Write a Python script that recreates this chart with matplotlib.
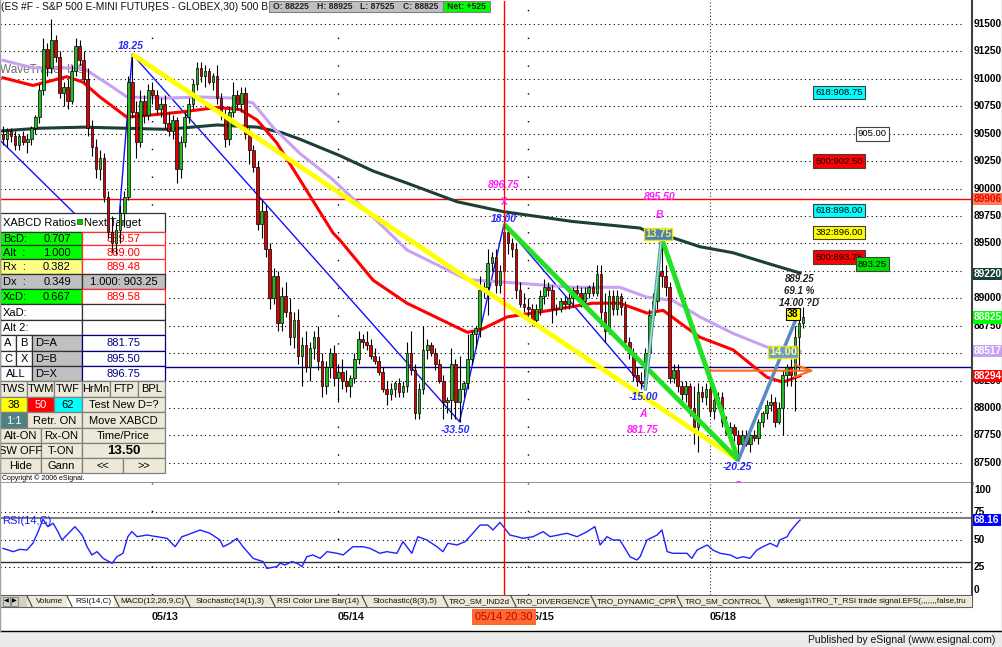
#!/usr/bin/env python
"""
30 minute ES chart with XABCD pattern, moving averages and RSI pane
"""

import numpy as np
import matplotlib
matplotlib.use("Agg")
import matplotlib.pyplot as plt
from matplotlib.patches import Rectangle
from matplotlib.transforms import Affine2D, blended_transform_factory

# ---------------- data ----------------
bar_open = [
    905.0, 904.5, 905.25, 904.75, 904.0, 904.75, 904.25, 904.5, 905.5, 906.5,
    909.0, 912.75, 911.0, 913.5, 912.0, 908.75, 909.25, 908.0, 910.75, 913.0,
    911.75, 910.0, 905.5, 903.75, 901.75, 902.75, 899.25, 896.0, 895.0, 896.25,
    897.75, 899.25, 909.75, 907.0, 904.25, 908.0, 906.75, 909.0, 908.5, 907.25,
    907.75, 906.0, 905.25, 906.25, 901.75, 904.25, 906.5, 907.75, 909.5, 911.0,
    910.25, 910.75, 909.75, 910.25, 908.25, 906.75, 904.5, 907.0, 908.5, 907.75,
    908.75, 905.0, 903.5, 902.0, 896.75, 898.0, 894.5, 890.0, 892.0, 887.75,
    890.25, 888.75, 886.5, 888.0, 884.75, 885.75, 883.75, 885.5, 886.5, 884.25,
    882.0, 883.75, 885.0, 882.75, 883.25, 882.5, 882.0, 882.75, 884.5, 886.25,
    886.0, 885.75, 884.75, 884.25, 883.25, 881.75, 881.25, 881.75, 882.25, 881.5,
    882.0, 885.0, 883.5, 879.5, 881.75, 885.25, 885.75, 885.0, 884.0, 882.5,
    880.5, 880.75, 884.0, 880.5, 881.75, 882.25, 884.5, 886.75, 887.25, 890.75,
    891.0, 893.25, 893.75, 891.25, 892.5, 896.0, 895.0, 894.5, 890.75, 889.5,
    889.25, 889.0, 888.0, 889.0, 890.25, 891.0, 890.75, 889.0, 889.0, 889.75,
    889.5, 890.0, 890.75, 890.5, 889.75, 890.5, 891.0, 890.5, 892.25, 888.75,
    887.0, 890.25, 889.0, 890.25, 889.25, 886.0, 885.0, 883.0, 882.5, 882.25,
    885.0, 888.5, 889.75, 892.5, 892.0, 891.0, 882.75, 883.5, 882.0, 881.25,
    882.0, 880.0, 878.25, 881.5, 881.0, 881.75, 879.75, 880.75, 881.0, 878.75,
    877.75, 878.25, 877.5, 876.75, 877.5, 876.75, 877.5, 877.25, 878.75, 879.5,
    880.25, 880.5, 878.75, 880.0, 883.0, 883.75, 883.0, 886.5, 887.75]
bar_high = [
    905.75, 905.5, 905.5, 905.25, 905.0, 905.25, 905.0, 905.75, 906.75, 909.5,
    913.75, 913.25, 915.5, 914.0, 912.5, 909.75, 910.0, 911.25, 913.75, 913.5,
    912.5, 911.0, 906.25, 904.5, 903.5, 903.25, 899.75, 897.5, 896.75, 898.5,
    899.75, 910.25, 912.25, 908.0, 909.0, 908.5, 909.5, 909.75, 909.0, 908.25,
    908.5, 907.0, 906.75, 906.5, 904.75, 907.0, 908.25, 910.0, 911.5, 911.5,
    911.25, 911.0, 910.5, 911.25, 908.75, 907.25, 907.5, 909.75, 909.0, 909.25,
    909.25, 905.5, 904.0, 902.5, 899.0, 898.5, 895.0, 892.75, 892.5, 891.0,
    891.5, 890.0, 888.75, 889.0, 886.5, 887.0, 886.0, 887.0, 887.5, 885.0,
    884.25, 885.5, 885.75, 884.0, 884.5, 883.5, 883.0, 885.0, 887.0, 886.75,
    887.0, 886.25, 885.5, 884.75, 883.75, 882.5, 882.25, 882.5, 882.75, 882.5,
    886.0, 887.0, 884.0, 882.25, 887.5, 886.25, 886.0, 885.5, 884.5, 883.0,
    881.0, 885.5, 884.5, 884.75, 882.5, 886.75, 887.0, 887.5, 892.0, 891.5,
    894.5, 894.25, 894.5, 893.0, 896.75, 896.5, 895.5, 895.0, 891.5, 890.5,
    890.0, 889.5, 889.5, 890.75, 891.75, 891.5, 891.25, 889.5, 890.0, 890.25,
    890.5, 891.0, 891.25, 891.0, 891.0, 891.25, 891.5, 893.0, 893.0, 890.5,
    890.75, 890.75, 890.75, 890.5, 889.75, 886.5, 885.5, 883.75, 883.25, 885.5,
    889.0, 890.5, 893.0, 895.5, 893.0, 891.5, 884.0, 884.0, 882.5, 882.5,
    882.25, 882.0, 882.25, 882.0, 882.25, 882.0, 881.5, 881.5, 881.5, 879.25,
    878.75, 878.5, 878.0, 878.0, 878.0, 877.75, 878.0, 879.0, 879.75, 880.75,
    881.25, 881.0, 880.5, 883.5, 884.0, 884.5, 887.5, 888.0, 889.25]
bar_low = [
    904.0, 903.75, 904.25, 903.5, 903.5, 904.0, 903.25, 904.0, 905.0, 906.0,
    908.5, 910.25, 910.5, 911.5, 908.25, 907.5, 907.25, 907.75, 910.25, 911.25,
    909.75, 904.75, 903.0, 901.0, 900.75, 898.75, 895.5, 894.25, 894.0, 895.0,
    896.5, 899.0, 906.5, 902.75, 903.75, 906.0, 906.25, 907.75, 906.75, 906.5,
    905.5, 904.75, 904.5, 900.5, 901.0, 903.75, 906.0, 907.25, 909.0, 909.75,
    909.25, 909.5, 909.0, 907.75, 906.25, 903.75, 904.0, 906.5, 907.25, 907.0,
    904.5, 902.25, 901.5, 896.25, 895.5, 893.75, 889.0, 889.5, 887.0, 887.0,
    888.25, 885.75, 885.5, 884.0, 882.0, 883.25, 882.5, 884.5, 883.5, 881.0,
    881.25, 882.75, 882.0, 880.5, 881.75, 881.5, 881.0, 882.25, 884.0, 885.5,
    885.25, 884.5, 884.0, 883.0, 881.5, 880.25, 880.75, 881.0, 881.0, 881.0,
    881.5, 883.0, 879.0, 879.0, 881.25, 884.5, 884.75, 883.5, 882.25, 879.0,
    879.5, 879.0, 879.0, 878.75, 881.0, 881.75, 884.0, 885.5, 886.5, 890.0,
    888.5, 892.5, 890.5, 890.5, 892.0, 894.0, 893.75, 890.0, 889.25, 888.75,
    888.5, 887.5, 887.75, 888.5, 889.5, 890.25, 887.75, 888.5, 888.75, 889.0,
    889.0, 889.25, 890.25, 889.25, 889.5, 890.0, 890.25, 890.25, 887.5, 886.0,
    886.75, 888.5, 888.5, 888.5, 885.25, 884.5, 882.5, 882.0, 881.75, 881.75,
    884.5, 888.0, 889.0, 891.0, 890.25, 882.25, 882.25, 881.5, 880.75, 880.5,
    879.25, 876.75, 876.0, 880.5, 880.25, 879.25, 879.0, 880.0, 878.25, 877.5,
    877.0, 877.0, 875.25, 876.0, 876.5, 876.0, 877.0, 876.75, 878.25, 879.0,
    879.75, 878.25, 878.5, 877.5, 882.0, 882.0, 879.75, 883.5, 887.25]
bar_close = [
    904.5, 905.25, 904.75, 904.0, 904.75, 904.25, 904.5, 905.5, 906.5, 909.0,
    912.75, 911.0, 913.5, 912.0, 908.75, 909.25, 908.0, 910.75, 913.0, 911.75,
    910.0, 905.5, 903.75, 901.75, 902.75, 899.25, 896.0, 895.0, 896.25, 897.75,
    899.25, 909.75, 907.0, 904.25, 908.0, 906.75, 909.0, 908.5, 907.25, 907.75,
    906.0, 905.25, 906.25, 901.75, 904.25, 906.5, 907.75, 909.5, 911.0, 910.25,
    910.75, 909.75, 910.25, 908.25, 906.75, 904.5, 907.0, 908.5, 907.75, 908.75,
    905.0, 903.5, 902.0, 896.75, 898.0, 894.5, 890.0, 892.0, 887.75, 890.25,
    888.75, 886.5, 888.0, 884.75, 885.75, 883.75, 885.5, 886.5, 884.25, 882.0,
    883.75, 885.0, 882.75, 883.25, 882.5, 882.0, 882.75, 884.5, 886.25, 886.0,
    885.75, 884.75, 884.25, 883.25, 881.75, 881.25, 881.75, 882.25, 881.5, 882.0,
    885.0, 883.5, 879.5, 881.75, 885.25, 885.75, 885.0, 884.0, 882.5, 880.5,
    880.75, 884.0, 880.5, 881.75, 882.25, 884.5, 886.75, 887.25, 890.75, 891.0,
    893.25, 893.75, 891.25, 892.5, 896.0, 895.0, 894.5, 890.75, 889.5, 889.25,
    889.0, 888.0, 889.0, 890.25, 891.0, 890.75, 889.0, 889.0, 889.75, 889.5,
    890.0, 890.75, 890.5, 889.75, 890.5, 891.0, 890.5, 892.25, 888.75, 887.0,
    890.25, 889.0, 890.25, 889.25, 886.0, 885.0, 883.0, 882.5, 882.25, 885.0,
    888.5, 889.75, 892.5, 892.0, 891.0, 882.75, 883.5, 882.0, 881.25, 882.0,
    880.0, 878.25, 881.5, 881.0, 881.75, 879.75, 880.75, 881.0, 878.75, 877.75,
    878.25, 877.5, 876.75, 877.5, 876.75, 877.5, 877.25, 878.75, 879.5, 880.25,
    880.5, 878.75, 880.0, 883.0, 883.75, 883.0, 886.5, 887.75, 888.25]

# moving averages (bar index, price)
ma_long_bars = [-0.7, 9, 20, 40.6, 53, 63, 69, 73.5, 83.4, 91.6, 100, 112.4,
                123.8, 141, 157.7, 160.1, 165.1, 172.5, 180.7, 189.1, 197.3]
ma_long_vals = [905.25, 905.5, 905.6, 905.4, 905.8, 905.6, 905.1, 904.5, 903.0,
                901.6, 900.5, 898.8, 897.9, 897.0, 896.4, 895.95, 895.6, 894.7,
                894.15, 893.2, 892.3]
ma_mid_bars = [0, 7.4, 19.8, 25.7, 30.7, 40.6, 48.8, 56.9, 61.9, 66.8, 73.5,
               81.7, 83.4, 91.6, 100, 114.9, 123, 141, 152.7, 159.4, 165.8,
               172.5, 180.7, 189.1, 197.3]
ma_mid_vals = [911.7, 911.0, 911.0, 909.6, 908.35, 908.25, 908.35, 908.25,
               907.8, 905.6, 903.2, 900.8, 900.2, 897.4, 894.4, 891.7, 891.5,
               891.0, 891.0, 890.1, 889.8, 888.3, 886.8, 885.55, 885.17]
ma_short_bars = [0, 7.4, 15.8, 19.8, 24, 30.7, 36.4, 44.6, 53, 58.7, 62.9,
                 67.8, 73.5, 81.7, 83.4, 91.6, 100, 114.9, 118.1, 124.8, 132.9,
                 146, 152.7, 159.4, 163.4, 167.6, 172.5, 180.7, 189.1, 193.1,
                 197.3]
ma_short_vals = [910.1, 909.4, 910.2, 909.7, 908.35, 906.5, 906.7, 907.0,
                 907.4, 907.2, 906.25, 904.15, 900.8, 895.95, 895.3, 891.65,
                 889.55, 886.9, 887.1, 888.3, 888.75, 889.55, 889.55, 888.65,
                 888.9, 887.75, 886.45, 885.3, 882.8, 882.35, 882.94]

# RSI(14)
rsi_bars = [0, 2.5, 4.2, 5.9, 7.4, 8.7, 9.9, 11.1, 12.4, 13.6, 14.6, 15.8,
            17.8, 19.6, 20.8, 22.0, 23.3, 24.8, 27.0, 28.2, 29.7, 30.9, 31.9,
            33.2, 35.6, 38.1, 40.6, 42.6, 44.3, 45.5, 48.8, 51.2, 53.7, 54.5,
            56.2, 57.9, 59.4, 61.9, 64.4, 65.3, 67.8, 68.6, 69.8, 71.5, 72.8,
            74.0, 75.2, 76.7, 78.5, 80.2, 82.7, 84.2, 86.6, 89.1, 90.8, 93.3,
            95.0, 97.5, 99.0, 101.2, 102.7, 104.9, 107.4, 108.9, 110.1, 112.4,
            114.4, 116.3, 118.1, 120.0, 121.3, 123.0, 125.5, 127.2, 128.7,
            131.2, 133.7, 135.4, 139.6, 142.1, 144.6, 146.5, 147.8, 149.5,
            151.0, 152.7, 155.2, 156.9, 157.7, 159.4, 161.9, 163.1, 164.4,
            165.8, 169.3, 170.5, 171.8, 174.3, 175.7, 177.5, 180.0, 181.7,
            183.2, 184.9, 186.6, 188.1, 189.9, 191.6, 192.3, 194.1, 194.8,
            196.5, 197.3]
rsi_vals = [42.4, 39.4, 41.5, 40.9, 47.0, 57.6, 68.8, 62.1, 65.2, 57.6, 50.0,
            54.5, 62.1, 54.5, 43.9, 36.4, 39.4, 33.3, 28.8, 34.8, 37.9, 53.0,
            57.6, 53.0, 54.5, 53.0, 51.5, 43.9, 53.0, 54.5, 59.1, 56.1, 50.0,
            43.9, 47.0, 51.5, 43.9, 33.3, 30.3, 24.2, 25.8, 28.8, 27.3, 30.3,
            28.8, 25.8, 34.8, 36.4, 33.3, 39.4, 37.9, 36.4, 43.9, 43.9, 42.4,
            37.9, 39.4, 37.9, 48.5, 37.9, 53.0, 50.0, 43.9, 39.4, 47.0, 45.5,
            48.5, 56.1, 63.6, 63.6, 59.1, 66.0, 54.5, 53.0, 51.5, 53.0, 57.6,
            53.0, 56.1, 53.0, 57.6, 62.1, 45.5, 53.0, 50.0, 50.0, 34.8, 31.8,
            34.8, 50.0, 54.5, 59.1, 39.4, 37.9, 37.9, 33.3, 40.9, 45.5, 40.9,
            37.9, 36.4, 33.3, 34.8, 33.3, 40.9, 43.9, 47.0, 43.9, 50.0, 53.0,
            57.6, 65.2, 68.16]

# swing pivots: start, L1, H1, L2, X, A, B, C, D
pivot_bars = [-0.7, 28, 32, 113, 124, 159, 163, 182, 197]
pivot_prices = [904.4, 894.0, 912.25, 878.75, 896.75, 881.75, 895.5, 875.25, 888.75]

fib_labels = ["618:908.75", "905.00", "500:902.50", "618:898.00", "382:896.00",
              "500:893.75", "893.25"]
fib_prices = [908.75, 905.0, 902.5, 898.0, 896.0, 893.75, 893.1]

last_values = {"ma_long": 892.20, "ma_short": 882.94, "ma_mid": 885.17,
               "close": 888.25, "hline": 899.06}
target_line = 883.75
rsi_last = 68.16

day_start_bars = [37, 83, 130, 175]
day_labels = ["05/13", "05/14", "05/15", "05/18"]
cursor_bar = 124
cursor_label = "05/14 20:30"

quote_fields = ["O: 88225", "H: 88925", "L: 87525", "C: 88825"]
net_change = "Net: +525"

ratio_names = ["BcD:", "Alt  :", "Rx  :", "Dx  :", "XcD:"]
ratio_values = ["0.707", "1.000", "0.382", "0.349", "0.667"]
target_values = ["889.57", "889.00", "889.48", "1.000: 903.25", "889.58"]
d_targets = ["881.75", "895.50", "896.75"]

tab_names = ["Volume", "RSI(14,C)", "MACD(12,26,9,C)", "Stochastic(14(1),3)",
             "RSI Color Line Bar(14)", "Stochastic(8(3),5)", "TRO_SM_IND2d",
             "TRO_DIVERGENCE", "TRO_DYNAMIC_CPR", "TRO_SM_CONTROL",
             "wskesig1\\TRO_T_RSI trade signal.EFS(,,,,,,,false,tru"]

# ---------------- figure ----------------
plt.rcParams['font.family'] = ['Liberation Sans', 'DejaVu Sans']

W, H = 1003, 647
fig = plt.figure(figsize=(W / 100, H / 100), dpi=100)
fig.patch.set_facecolor('white')
# pixel coordinates measured from the top-left corner
pix = Affine2D().scale(1.0 / W, -1.0 / H).translate(0, 1) + fig.transFigure

XLIM = (-0.74, 239.85)
ax = fig.add_axes([0, 1 - 483 / H, 972 / W, 482 / H])
rax = fig.add_axes([0, 1 - 595 / H, 972 / W, 112 / H])
ax.set_xlim(XLIM)
ax.set_ylim(873.16, 917.1)
rax.set_xlim(XLIM)
rax.set_ylim(0, 101.8)
for a in (ax, rax):
    a.set_xticks([])
    a.set_yticks([])
    for s in ('top', 'left'):
        a.spines[s].set_visible(False)
    a.spines['right'].set_color('#404040')
    a.spines['right'].set_linewidth(1.5)
ax.spines['bottom'].set_color('#8c8c8c')
ax.spines['bottom'].set_linewidth(2)
rax.spines['bottom'].set_visible(False)

# grid
price_ticks = np.arange(875, 915.01, 2.5)
ax.hlines(price_ticks, XLIM[0], 237.6, colors='black', linestyles=(0, (1, 3)),
          lw=0.8, zorder=0.5)
rax.hlines([25, 50, 75], XLIM[0], 237.6, colors='black', linestyles=(0, (1, 3)),
           lw=0.8, zorder=0.5)
rax.axhline(70, color='#808080', lw=1.5, zorder=0.6)
rax.axhline(30, color='#303030', lw=1.0, zorder=0.6)
for a in (ax, rax):
    a.vlines(day_start_bars[:3], *a.get_ylim(), colors='black',
             linestyles=(0, (1, 19)), lw=1.0, zorder=0.5)
    a.axvline(day_start_bars[3], color='#333333', ls=(0, (1, 2)), lw=0.8, zorder=0.5)
    a.axvline(cursor_bar, color='#ff0000', lw=1.0, zorder=4)

ax.axhline(last_values["hline"], color='#ff0000', lw=1.0, zorder=1)
ax.axhline(target_line, color='#000080', lw=1.0, zorder=1)

# moving averages
ax.plot(ma_long_bars, ma_long_vals, color='#1c3f36', lw=2.2, zorder=2.6)
ax.plot(ma_mid_bars, ma_mid_vals, color='#c8a2f2', lw=2.2, zorder=2.6)
ax.plot(ma_short_bars, ma_short_vals, color='#ff0000', lw=2.2, zorder=2.6)

# candles
o = np.array(bar_open)
hi = np.array(bar_high)
lo = np.array(bar_low)
c = np.array(bar_close)
x = np.arange(len(c))
up = c >= o
ax.vlines(x, lo, hi, color='black', lw=0.8, zorder=3)
ax.bar(x[up], (c - o)[up], bottom=o[up], width=0.66, color='#22bb22',
       edgecolor='black', lw=0.5, zorder=3.1)
ax.bar(x[~up], (o - c)[~up], bottom=c[~up], width=0.66, color='#e00000',
       edgecolor='black', lw=0.5, zorder=3.1)

# XABCD drawing
pb, pp = pivot_bars, pivot_prices
ax.plot(pb[:6], pp[:6], color='#1010ff', lw=1.0, zorder=1.8)
ax.plot([pb[2], pb[7]], [pp[2], pp[7]], color='#ffff00', lw=3.5, zorder=3.5,
        solid_capstyle='butt')
ax.plot([pb[4], pb[7]], [pp[4], pp[7]], color='#22e022', lw=3.5, zorder=3.5,
        solid_capstyle='butt')
ax.plot([pb[6], pb[7]], [pp[6], pp[7]], color='#22e022', lw=3.5, zorder=3.5,
        solid_capstyle='butt')
ax.plot([pb[5], pb[6]], [pp[5], pp[6]], color='#5a8ac6', lw=2.5, zorder=3.5)
ax.plot([pb[5], pb[6]], [pp[5], pp[6]], color='#88ff88', lw=1.0, zorder=3.6)
ax.plot([pb[7], pb[8]], [pp[7], pp[8]], color='#5a8ac6', lw=2.5, zorder=3.5)
ax.annotate('', xy=(201.5, 883.4), xytext=(174.3, 883.4), zorder=3.7,
            arrowprops=dict(arrowstyle='->,head_length=1.2,head_width=0.45',
                            color='#ff6a20', lw=1.5))


def tag(i, dx, dy, text, color, box=None, style='italic', fs=7.5):
    ax.annotate(text, (pb[i], pp[i]), xytext=(dx, dy), textcoords='offset points',
                ha='center', va='center', color=color, fontsize=fs,
                fontweight='bold', fontstyle=style, zorder=6, bbox=box,
                annotation_clip=False)


blue_t, pink_t = '#2828ff', '#ff20ff'
tag(2, -1.4, 5.8, "18.25", blue_t)
tag(3, -3, -6, "-33.50", blue_t)
tag(4, 0, 4, "18.00", blue_t)
tag(4, 0, 15.8, "X", pink_t, style='normal', fs=7)
tag(4, 0, 28, "896.75", pink_t)
tag(5, -1.7, -5.8, "-15.00", blue_t)
tag(5, -1.7, -18, "A", pink_t)
tag(5, -1.7, -29.5, "881.75", pink_t)
tag(6, -2.5, 3, "13.75", '#f0f060', style='normal',
    box=dict(boxstyle='square,pad=0.1', fc='#5080b0', ec='#e8e800', lw=1))
tag(6, -1.5, 16.5, "B", pink_t)
tag(6, -1.5, 29.5, "895.50", pink_t)
tag(7, -0.7, -5, "-20.25", blue_t)
ax.annotate("C", (pb[7], pp[7]), xytext=(-0.7, -19), textcoords='offset points',
            ha='center', va='center', color=pink_t, fontsize=7.5,
            fontweight='bold', fontstyle='italic', zorder=6)
tag(8, -4.3, -1.4, "38", 'black', style='normal',
    box=dict(boxstyle='square,pad=0.1', fc='#ffff00', ec='black', lw=0.8))
tag(8, 0, 6.5, "14.00 ?D", '#202020', fs=7)
tag(8, 0, 15, "69.1 %", '#202020', fs=7)
tag(8, 0.5, 24, "889.25", '#202020', fs=7)
ax.text(193.1, 885.1, "14.00", ha='center', va='center', color='#ffff60',
        fontsize=8, fontweight='bold', zorder=6,
        bbox=dict(boxstyle='square,pad=0.1', fc='#6a9ad0', ec='#e8e800', lw=1))

fib_colors = ['#00ffff', 'white', '#ff0000', '#00ffff', '#ffff00', '#ff0000', '#00e000']
fib_cols = [201.1, 211.6, 201.1, 201.1, 201.1, 201.1, 211.6]
for txt, p, col, fc in zip(fib_labels, fib_prices, fib_cols, fib_colors):
    ax.text(col, p, txt, ha='left', va='center', fontsize=6.8, color='black',
            zorder=6, bbox=dict(boxstyle='square,pad=0.25', fc=fc, ec='#404040', lw=0.8))

ax.text(0, 70, "WaveTrader II \u00a9", transform=pix, ha='left', va='center',
        fontsize=8.5, color='#6e6e6e', zorder=2.2)

# RSI
rax.plot(rsi_bars, rsi_vals, color='#2020ff', lw=1.0, zorder=2)
fig.text(2, 521, "RSI(14,C)", transform=pix, fontsize=8, color='#1a1aff',
         ha='left', va='center')


# right axis labels
def axis_label(a, val, text, fc=None, tc='black', va='center'):
    box = dict(boxstyle='square,pad=0.12', fc=fc, ec='none') if fc else None
    a.text(1.0 + 2.0 / 972, val, text, transform=a.get_yaxis_transform(),
           ha='left', va=va, fontsize=7.3, fontweight='bold', color=tc,
           clip_on=False, zorder=6, bbox=box)


# 892.50 sits completely under the 892.20 marker, so it is not drawn
for p in price_ticks:
    if abs(p - 892.5) > 0.01:
        axis_label(ax, p, f"{int(round(p * 100))}")
axis_label(ax, last_values["hline"], f"{int(round(last_values['hline'] * 100))}", '#ff7a50', '#ee0000')
axis_label(ax, last_values["ma_long"], f"{int(round(last_values['ma_long'] * 100))}", '#17403a', 'white')
axis_label(ax, last_values["close"], f"{int(round(last_values['close'] * 100))}", '#00ff00', 'white')
axis_label(ax, last_values["ma_mid"], f"{int(round(last_values['ma_mid'] * 100))}", '#c8a2f2', 'white')
axis_label(ax, last_values["ma_short"], f"{int(round(last_values['ma_short'] * 100))}", '#ff0000', 'white')
axis_label(rax, 100, "100", va='top')
for v in (75, 50, 25):
    axis_label(rax, v, str(v))
axis_label(rax, 0, "0", va='bottom')
axis_label(rax, rsi_last, f"{rsi_last:.2f}", '#0000ff', 'white')

# ---------------- left XABCD table ----------------
EDGE = '#303030'


def cell(x0, y0, x1, y1, fc, text='', tc='black', ha='center', ec=EDGE, fs=8, fw='normal'):
    ax.add_patch(Rectangle((x0, y0), x1 - x0, y1 - y0, transform=pix, fc=fc, ec=ec,
                           lw=0.9, zorder=2, clip_on=False))
    if text:
        tx = (x0 + x1) / 2 if ha == 'center' else x0 + 3
        ax.text(tx, (y0 + y1) / 2 + 0.5, text, transform=pix, ha=ha, va='center',
                color=tc, fontsize=fs, fontweight=fw, zorder=2.1, clip_on=False)


rows = [231.7, 245, 259.3, 274, 289.3, 304.3, 320, 335, 350.7, 365.7, 381,
        396.7, 412.3, 428.3, 443.3, 458.3, 473.3]
cell(0, 213.3, 165, rows[0], 'white')
ax.text(3, 222.5, "XABCD Ratios", transform=pix, ha='left', va='center', fontsize=8, zorder=2.1)
ax.add_patch(Rectangle((77, 219), 5, 5, transform=pix, fc='#00cc00', ec='#006600',
                       lw=0.5, zorder=2.05, clip_on=False))
ax.text(84, 222.5, "Next Target", transform=pix, ha='left', va='center', fontsize=8, zorder=2.1)
left_fc = ['#00ff00', '#00ff00', '#ffff88', '#c0c0c0', '#00ff00']
for k in range(5):
    y0, y1 = rows[k], rows[k + 1]
    cell(0, y0, 82, y1, left_fc[k], ratio_names[k], ha='left')
    ax.text(57, (y0 + y1) / 2 + 0.5, ratio_values[k], transform=pix, ha='center',
            va='center', fontsize=8, zorder=2.1)
    if k == 3:
        cell(82, y0, 165, y1, '#c0c0c0', target_values[k])
    else:
        cell(82, y0, 165, y1, 'white', target_values[k], tc='#ff0000', ec='#ff3030')
cell(0, rows[5], 82, rows[6], 'white', "XaD:", ha='left')
cell(82, rows[5], 165, rows[6], 'white')
cell(0, rows[6], 82, rows[7], 'white', "Alt 2:", ha='left')
cell(82, rows[6], 165, rows[7], 'white')
pair_cells = [("A", "B", "D=A"), ("C", "X", "D=B"), ("ALL", None, "D=X")]
for k, (p1, p2, dl) in enumerate(pair_cells):
    y0, y1 = rows[7 + k], rows[8 + k]
    if p2 is None:
        cell(0, y0, 32, y1, 'white', p1)
    else:
        cell(0, y0, 16, y1, 'white', p1)
        cell(16, y0, 32, y1, 'white', p2)
    cell(32, y0, 82, y1, '#c0c0c0', dl, ha='left')
    cell(82, y0, 165, y1, 'white', d_targets[k], tc='#000080', ec='#000080')

BTN = '#ece9d8'
button_rows = [
    [(0, 27, "TWS", BTN, 'black'), (27, 54, "TWM", BTN, 'black'), (54, 82, "TWF", BTN, 'black'),
     (82, 110, "HrMn", BTN, 'black'), (110, 138, "FTP", BTN, 'black'), (138, 165, "BPL", BTN, 'black')],
    [(0, 27, "38", '#ffff00', 'black'), (27, 54, "50", '#ff0000', 'white'),
     (54, 82, "62", '#00ffff', 'black'), (82, 165, "Test New D=?", BTN, 'black')],
    [(0, 27, "1:1", '#4f8082', 'white'), (27, 82, "Retr. ON", BTN, 'black'),
     (82, 165, "Move XABCD", BTN, 'black')],
    [(0, 41, "Alt-ON", BTN, 'black'), (41, 82, "Rx-ON", BTN, 'black'),
     (82, 165, "Time/Price", BTN, 'black')],
    [(0, 41, "SW OFF", BTN, 'black'), (41, 82, "T-ON", BTN, 'black'),
     (82, 165, "13.50", BTN, 'black')],
    [(0, 41, "Hide", BTN, 'black'), (41, 82, "Gann", BTN, 'black'),
     (82, 123, "<<", BTN, 'black'), (123, 165, ">>", BTN, 'black')],
]
for k, row in enumerate(button_rows):
    y0, y1 = rows[10 + k], rows[11 + k]
    for x0, x1, txt, fc, tc in row:
        big = txt == "13.50"
        cell(x0, y0, x1, y1, fc, txt, tc=tc, ec='#808080',
             fs=9.5 if big else 8, fw='bold' if big else 'normal')
ax.text(2, 478, "Copyright \u00a9 2006 eSignal.", transform=pix, ha='left', va='center',
        fontsize=5, zorder=2.1, clip_on=False)

# ---------------- header ----------------
fig.text(1, 7, "(ES #F - S&P 500 E-MINI FUTURES - GLOBEX,30) 500 B", transform=pix,
         ha='left', va='center', fontsize=7.4, color='#111111')
fig.add_artist(Rectangle((269, 0.5), 174, 11.5, transform=pix, fc='#c0c0c0',
                         ec='#808080', lw=0.8))
for xq, q in zip([273, 317, 360, 403], quote_fields):
    fig.text(xq, 6.5, q, transform=pix, ha='left', va='center', fontsize=6.2,
             fontweight='bold', color='#202020')
fig.add_artist(Rectangle((443, 0.5), 47, 11.5, transform=pix, fc='#00ff00',
                         ec='#808080', lw=0.8))
fig.text(447, 6.5, net_change, transform=pix, ha='left', va='center',
         fontsize=6.2, fontweight='bold', color='#202020')

# ---------------- tab bar, dates, status bar ----------------
fig.add_artist(Rectangle((0, 595), 972, 12, transform=pix, fc='#d4d0c8',
                         ec='#606060', lw=0.8))
for k, sym in enumerate(["\u25c0", "\u25b6"]):
    fig.add_artist(Rectangle((3 + 8 * k, 596.5), 7.5, 9, transform=pix, fc='#d4d0c8',
                             ec='#808080', lw=0.6))
    fig.text(6.8 + 8 * k, 601, sym, transform=pix, ha='center', va='center',
             fontsize=4.5, family='DejaVu Sans')
tab_edges = [27, 67, 114, 185, 270, 362, 443, 511, 591, 677, 765, 972]
for k, name in enumerate(tab_names):
    x0, x1 = tab_edges[k], tab_edges[k + 1]
    fig.add_artist(Rectangle((x0, 596), x1 - x0, 10.5, transform=pix,
                             fc='white' if k == 1 else '#ece9d8', ec='none'))
    fig.add_artist(plt.Line2D([x0, x0 + 5], [596, 606.5], transform=pix,
                              color='#404040', lw=0.8))
    fig.text((x0 + x1) / 2 + 2.5, 601.5, name, transform=pix, ha='center', va='center',
             fontsize=5.9, color='#111111')

date_tr = blended_transform_factory(ax.transData, pix)
for b, lab in zip(day_start_bars, day_labels):
    fig.text(b - 0.2, 617, lab, transform=date_tr, ha='left', va='center',
             fontsize=7.8, fontweight='bold', color='#111111')
fig.text(cursor_bar, 617, cursor_label, transform=date_tr, ha='center', va='center',
         fontsize=7.8, color='#c00000',
         bbox=dict(boxstyle='square,pad=0.3', fc='#ff6a30', ec='none'))

fig.add_artist(plt.Line2D([0, 1003], [631, 631], transform=pix, color='black', lw=1))
fig.add_artist(Rectangle((0, 632), 1003, 15, transform=pix, fc='#ebebeb', ec='none'))
fig.text(995, 640, "Published by eSignal (www.esignal.com)", transform=pix,
         ha='right', va='center', fontsize=7.5, color='#111111')
fig.add_artist(plt.Line2D([1002, 1002], [0, 631], transform=pix, color='#a0a0a0', lw=1))
fig.add_artist(plt.Line2D([0.5, 0.5], [0, 631], transform=pix, color='#a0a0a0', lw=1))

fig.savefig("out.png", dpi=100)
